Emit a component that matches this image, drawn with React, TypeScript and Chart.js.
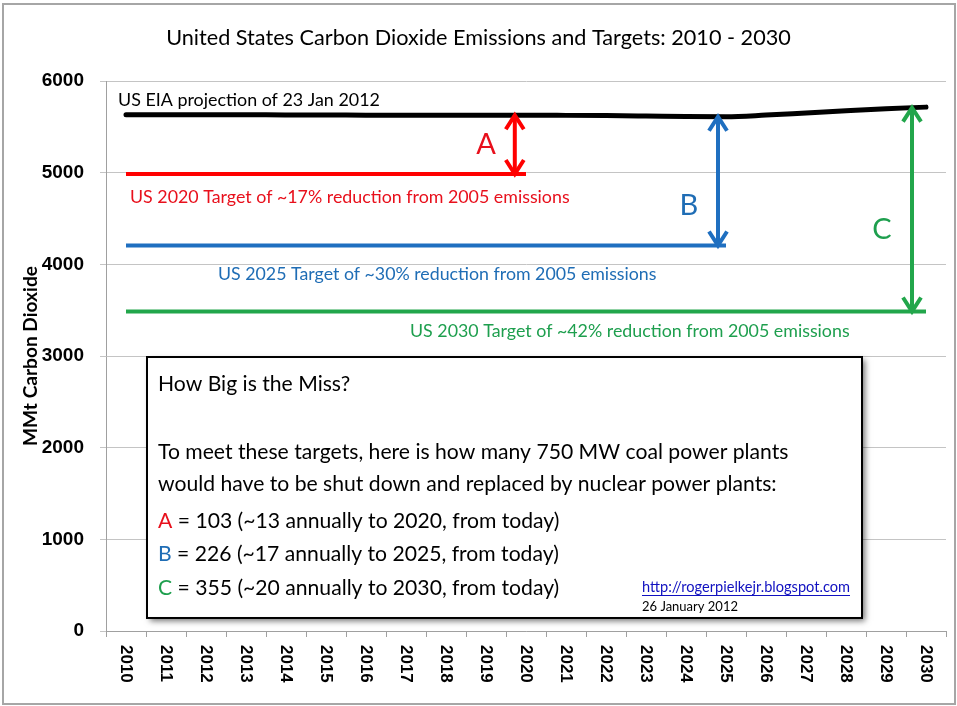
import React, { useEffect, useRef } from "react";
import { Chart, registerables } from "chart.js";
Chart.register(...registerables);

// ---------- data ----------
const YEARS = ["2010","2011","2012","2013","2014","2015","2016","2017","2018","2019","2020","2021","2022","2023","2024","2025","2026","2027","2028","2029","2030"];
const EIA_PROJECTION = [5632,5632,5631,5631,5630,5630,5626,5626,5626,5626,5626,5625,5623,5618,5612,5610,5628,5652,5676,5698,5715];
const TARGET_2020_VALUE = 4985;
const TARGET_2025_VALUE = 4205;
const TARGET_2030_VALUE = 3485;
const TARGET_2020 = YEARS.map((y) => (+y <= 2020 ? TARGET_2020_VALUE : null));
const TARGET_2025 = YEARS.map((y) => (+y <= 2025 ? TARGET_2025_VALUE : null));
const TARGET_2030 = YEARS.map(() => TARGET_2030_VALUE);
const Y_MIN = 0;
const Y_MAX = 6000;
const Y_STEP = 1000;

// gap arrows (fractional category index, target value)
const ARROW_NAMES = ["A", "B", "C"];
const ARROW_INDEX = [9.72, 14.8, 19.65];
const ARROW_TARGETS = [TARGET_2020_VALUE, TARGET_2025_VALUE, TARGET_2030_VALUE];

const TITLE = "United States Carbon Dioxide Emissions and Targets: 2010 - 2030";
const Y_TITLE = "MMt Carbon Dioxide";
const LINE_LABELS = [
  "US EIA projection of 23 Jan 2012",
  "US 2020 Target of ~17% reduction from 2005 emissions",
  "US 2025 Target of ~30% reduction from 2005 emissions",
  "US 2030 Target of ~42% reduction from 2005 emissions",
];
const BOX_HEAD = "How Big is the Miss?";
const BOX_LINES = [
  "To meet these targets, here is how many 750 MW coal power plants",
  "would have to be shut down and replaced by nuclear power plants:",
];
const BOX_ITEMS = [
  " = 103 (~13 annually to 2020, from today)",
  " = 226 (~17 annually to 2025, from today)",
  " = 355 (~20 annually to 2030, from today)",
];
const LINK = "http://rogerpielkejr.blogspot.com";
const DATE = "26 January 2012";

// ---------- styles ----------
const BLACK = "#000000";
const RED = "#FF0000";
const RED_TEXT = "#E8101C";
const BLUE = "#1F6FC0";
const BLUE_TEXT = "#1F6DB5";
const GREEN = "#22A64B";
const GREEN_TEXT = "#1E9F4E";
const COLORS = [RED, BLUE, GREEN];
const TEXT_COLORS = [RED_TEXT, BLUE_TEXT, GREEN_TEXT];
const FONT = "Lato, 'Open Sans', sans-serif";
const NUM_FONT = "'Liberation Sans', Arial, sans-serif";

function fitSize(ctx: CanvasRenderingContext2D, text: string, weight: string, family: string, width: number) {
  ctx.font = `${weight} 100px ${family}`;
  return (100 * width) / ctx.measureText(text).width;
}

function drawFitted(
  ctx: CanvasRenderingContext2D, text: string, x: number, y: number, width: number,
  color: string, weight = "normal", family = FONT, align: CanvasTextAlign = "left"
) {
  const s = fitSize(ctx, text, weight, family, width);
  ctx.font = `${weight} ${s}px ${family}`;
  ctx.fillStyle = color;
  ctx.textAlign = align;
  ctx.textBaseline = "middle";
  ctx.fillText(text, x, y);
}

function drawDoubleArrow(ctx: CanvasRenderingContext2D, x: number, y1: number, y2: number, color: string) {
  const hw = 9, hl = 14;
  ctx.save();
  ctx.strokeStyle = color;
  ctx.lineWidth = 4;
  ctx.lineCap = "butt";
  ctx.lineJoin = "miter";
  ctx.beginPath();
  ctx.moveTo(x, y1 + 2);
  ctx.lineTo(x, y2 - 2);
  ctx.stroke();
  ctx.beginPath();
  ctx.moveTo(x - hw, y1 + hl);
  ctx.lineTo(x, y1);
  ctx.lineTo(x + hw, y1 + hl);
  ctx.stroke();
  ctx.beginPath();
  ctx.moveTo(x - hw, y2 - hl);
  ctx.lineTo(x, y2);
  ctx.lineTo(x + hw, y2 - hl);
  ctx.stroke();
  ctx.restore();
}

function projectionAt(idx: number) {
  const i0 = Math.floor(idx);
  const i1 = Math.min(i0 + 1, EIA_PROJECTION.length - 1);
  const t = idx - i0;
  return EIA_PROJECTION[i0] * (1 - t) + EIA_PROJECTION[i1] * t;
}

const annotationPlugin = {
  id: "annotations",
  afterDatasetsDraw(chart: any) {
    const ctx: CanvasRenderingContext2D = chart.ctx;
    const xs = chart.scales.x;
    const ys = chart.scales.y;
    const X = (i: number) => xs.getPixelForValue(i);
    const Y = (v: number) => ys.getPixelForValue(v);
    ctx.save();
    // line labels
    drawFitted(ctx, LINE_LABELS[0], X(-0.2), Y(5793), 262, BLACK);
    drawFitted(ctx, LINE_LABELS[1], X(0.1), Y(4735), 440, RED_TEXT);
    drawFitted(ctx, LINE_LABELS[2], X(2.3), Y(3895), 439, BLUE_TEXT);
    drawFitted(ctx, LINE_LABELS[3], X(7.1), Y(3273), 440, GREEN_TEXT);
    // arrows
    ARROW_INDEX.forEach((idx, k) => {
      drawDoubleArrow(ctx, X(idx), Y(projectionAt(idx)), Y(ARROW_TARGETS[k]), COLORS[k]);
    });
    // arrow letters
    const letterPos = [[9.0, 5302], [14.07, 4636], [18.9, 4375]];
    ARROW_NAMES.forEach((n, k) => {
      ctx.font = `normal 29px ${FONT}`;
      ctx.fillStyle = TEXT_COLORS[k];
      ctx.textAlign = "center";
      ctx.textBaseline = "middle";
      ctx.fillText(n, X(letterPos[k][0]), Y(letterPos[k][1]));
    });
    ctx.restore();
  },
  afterDraw(chart: any) {
    const ctx: CanvasRenderingContext2D = chart.ctx;
    const xs = chart.scales.x;
    const ys = chart.scales.y;
    const area = chart.chartArea;
    const X = (i: number) => xs.getPixelForValue(i);
    const Y = (v: number) => ys.getPixelForValue(v);
    ctx.save();

    // x tick labels, rotated clockwise
    ctx.font = `bold 17px ${NUM_FONT}`;
    ctx.fillStyle = "#000";
    ctx.textAlign = "left";
    ctx.textBaseline = "middle";
    xs.ticks.forEach((_t: any, i: number) => {
      const x = xs.getPixelForTick(i);
      ctx.save();
      ctx.translate(x, xs.top + 14);
      ctx.rotate(Math.PI / 2);
      ctx.fillText(YEARS[i], 0, 0);
      ctx.restore();
    });

    // y title
    ctx.save();
    ctx.translate(31, (area.top + area.bottom) / 2);
    ctx.rotate(-Math.PI / 2);
    drawFitted(ctx, Y_TITLE, 0, 0, 180, "#000", "bold", FONT, "center");
    ctx.restore();

    // chart title
    drawFitted(ctx, TITLE, chart.width / 2, 38, 625, "#000", "normal", FONT, "center");

    // info box
    const bl = X(0.525), br = X(18.4), bt = Y(2989), bb = Y(142);
    ctx.save();
    ctx.shadowColor = "rgba(0,0,0,0.55)";
    ctx.shadowBlur = 6;
    ctx.shadowOffsetX = 3;
    ctx.shadowOffsetY = 3;
    ctx.fillStyle = "#fff";
    ctx.fillRect(bl, bt, br - bl, bb - bt);
    ctx.restore();
    ctx.strokeStyle = "#000";
    ctx.lineWidth = 2;
    ctx.strokeRect(bl, bt, br - bl, bb - bt);

    const tx = bl + 11;
    const size = fitSize(ctx, BOX_LINES[0], "normal", FONT, 631);
    ctx.font = `normal ${size}px ${FONT}`;
    ctx.textAlign = "left";
    ctx.textBaseline = "middle";
    ctx.fillStyle = "#000";
    ctx.fillText(BOX_HEAD, tx, bt + 27);
    ctx.fillText(BOX_LINES[0], tx, bt + 95);
    ctx.fillText(BOX_LINES[1], tx, bt + 127);
    BOX_ITEMS.forEach((line, k) => {
      const y = bt + 164 + k * 33.5;
      ctx.fillStyle = TEXT_COLORS[k];
      ctx.fillText(ARROW_NAMES[k], tx, y);
      const w = ctx.measureText(ARROW_NAMES[k]).width;
      ctx.fillStyle = "#000";
      ctx.fillText(line, tx + w, y);
    });

    // link + date
    const lx = bl + 495;
    drawFitted(ctx, LINK, lx, bt + 230, 208, "#1010C0");
    ctx.strokeStyle = "#1010C0";
    ctx.lineWidth = 1;
    ctx.beginPath();
    ctx.moveTo(lx, bt + 238.5);
    ctx.lineTo(lx + 208, bt + 238.5);
    ctx.stroke();
    drawFitted(ctx, DATE, lx, bt + 250, 96, "#000");

    // outer frame
    ctx.strokeStyle = "#A6A6A6";
    ctx.lineWidth = 2;
    ctx.strokeRect(3, 4, chart.width - 5, chart.height - 6);
    ctx.restore();
  },
};

export default function App() {
  const ref = useRef<HTMLCanvasElement | null>(null);
  useEffect(() => {
    if (!ref.current) return;
    const chart = new Chart(ref.current, {
      type: "line",
      data: {
        labels: YEARS,
        datasets: [
          { label: "US EIA projection", data: EIA_PROJECTION, borderColor: BLACK, borderWidth: 5, pointRadius: 0, tension: 0.3, cubicInterpolationMode: "monotone", borderCapStyle: "round" },
          { label: "2020 target", data: TARGET_2020, borderColor: RED, borderWidth: 4, pointRadius: 0, borderCapStyle: "butt" },
          { label: "2025 target", data: TARGET_2025, borderColor: BLUE, borderWidth: 4, pointRadius: 0, borderCapStyle: "butt" },
          { label: "2030 target", data: TARGET_2030, borderColor: GREEN, borderWidth: 4, pointRadius: 0, borderCapStyle: "butt" },
        ],
      } as any,
      options: {
        responsive: false,
        animation: false,
        events: [],
        layout: { padding: { top: 81, right: 11, bottom: 0, left: 0 } },
        plugins: { legend: { display: false }, tooltip: { enabled: false }, title: { display: false } },
        scales: {
          x: {
            type: "category",
            offset: true,
            grid: { offset: true, drawOnChartArea: false, drawTicks: true, tickLength: 6, color: "#A0A0A0" },
            border: { color: "#A0A0A0" },
            ticks: { display: false },
            afterFit: (s: any) => { s.height = 75; },
          },
          y: {
            min: Y_MIN,
            max: Y_MAX,
            ticks: {
              stepSize: Y_STEP,
              color: "#000",
              padding: 16,
              font: { family: NUM_FONT, size: 19, weight: "bold" },
              callback: (v: any) => String(v),
            },
            grid: { color: "#C4C4C4", tickLength: 6 },
            border: { color: "#A0A0A0" },
            afterFit: (s: any) => { s.width = 106; },
          },
        },
      } as any,
      plugins: [annotationPlugin],
    });
    return () => chart.destroy();
  }, []);
  return (
    <div style={{ position: "fixed", left: 0, top: 0, width: 957, height: 706, background: "#fff" }}>
      <canvas ref={ref} width={957} height={706} style={{ display: "block" }} />
    </div>
  );
}
